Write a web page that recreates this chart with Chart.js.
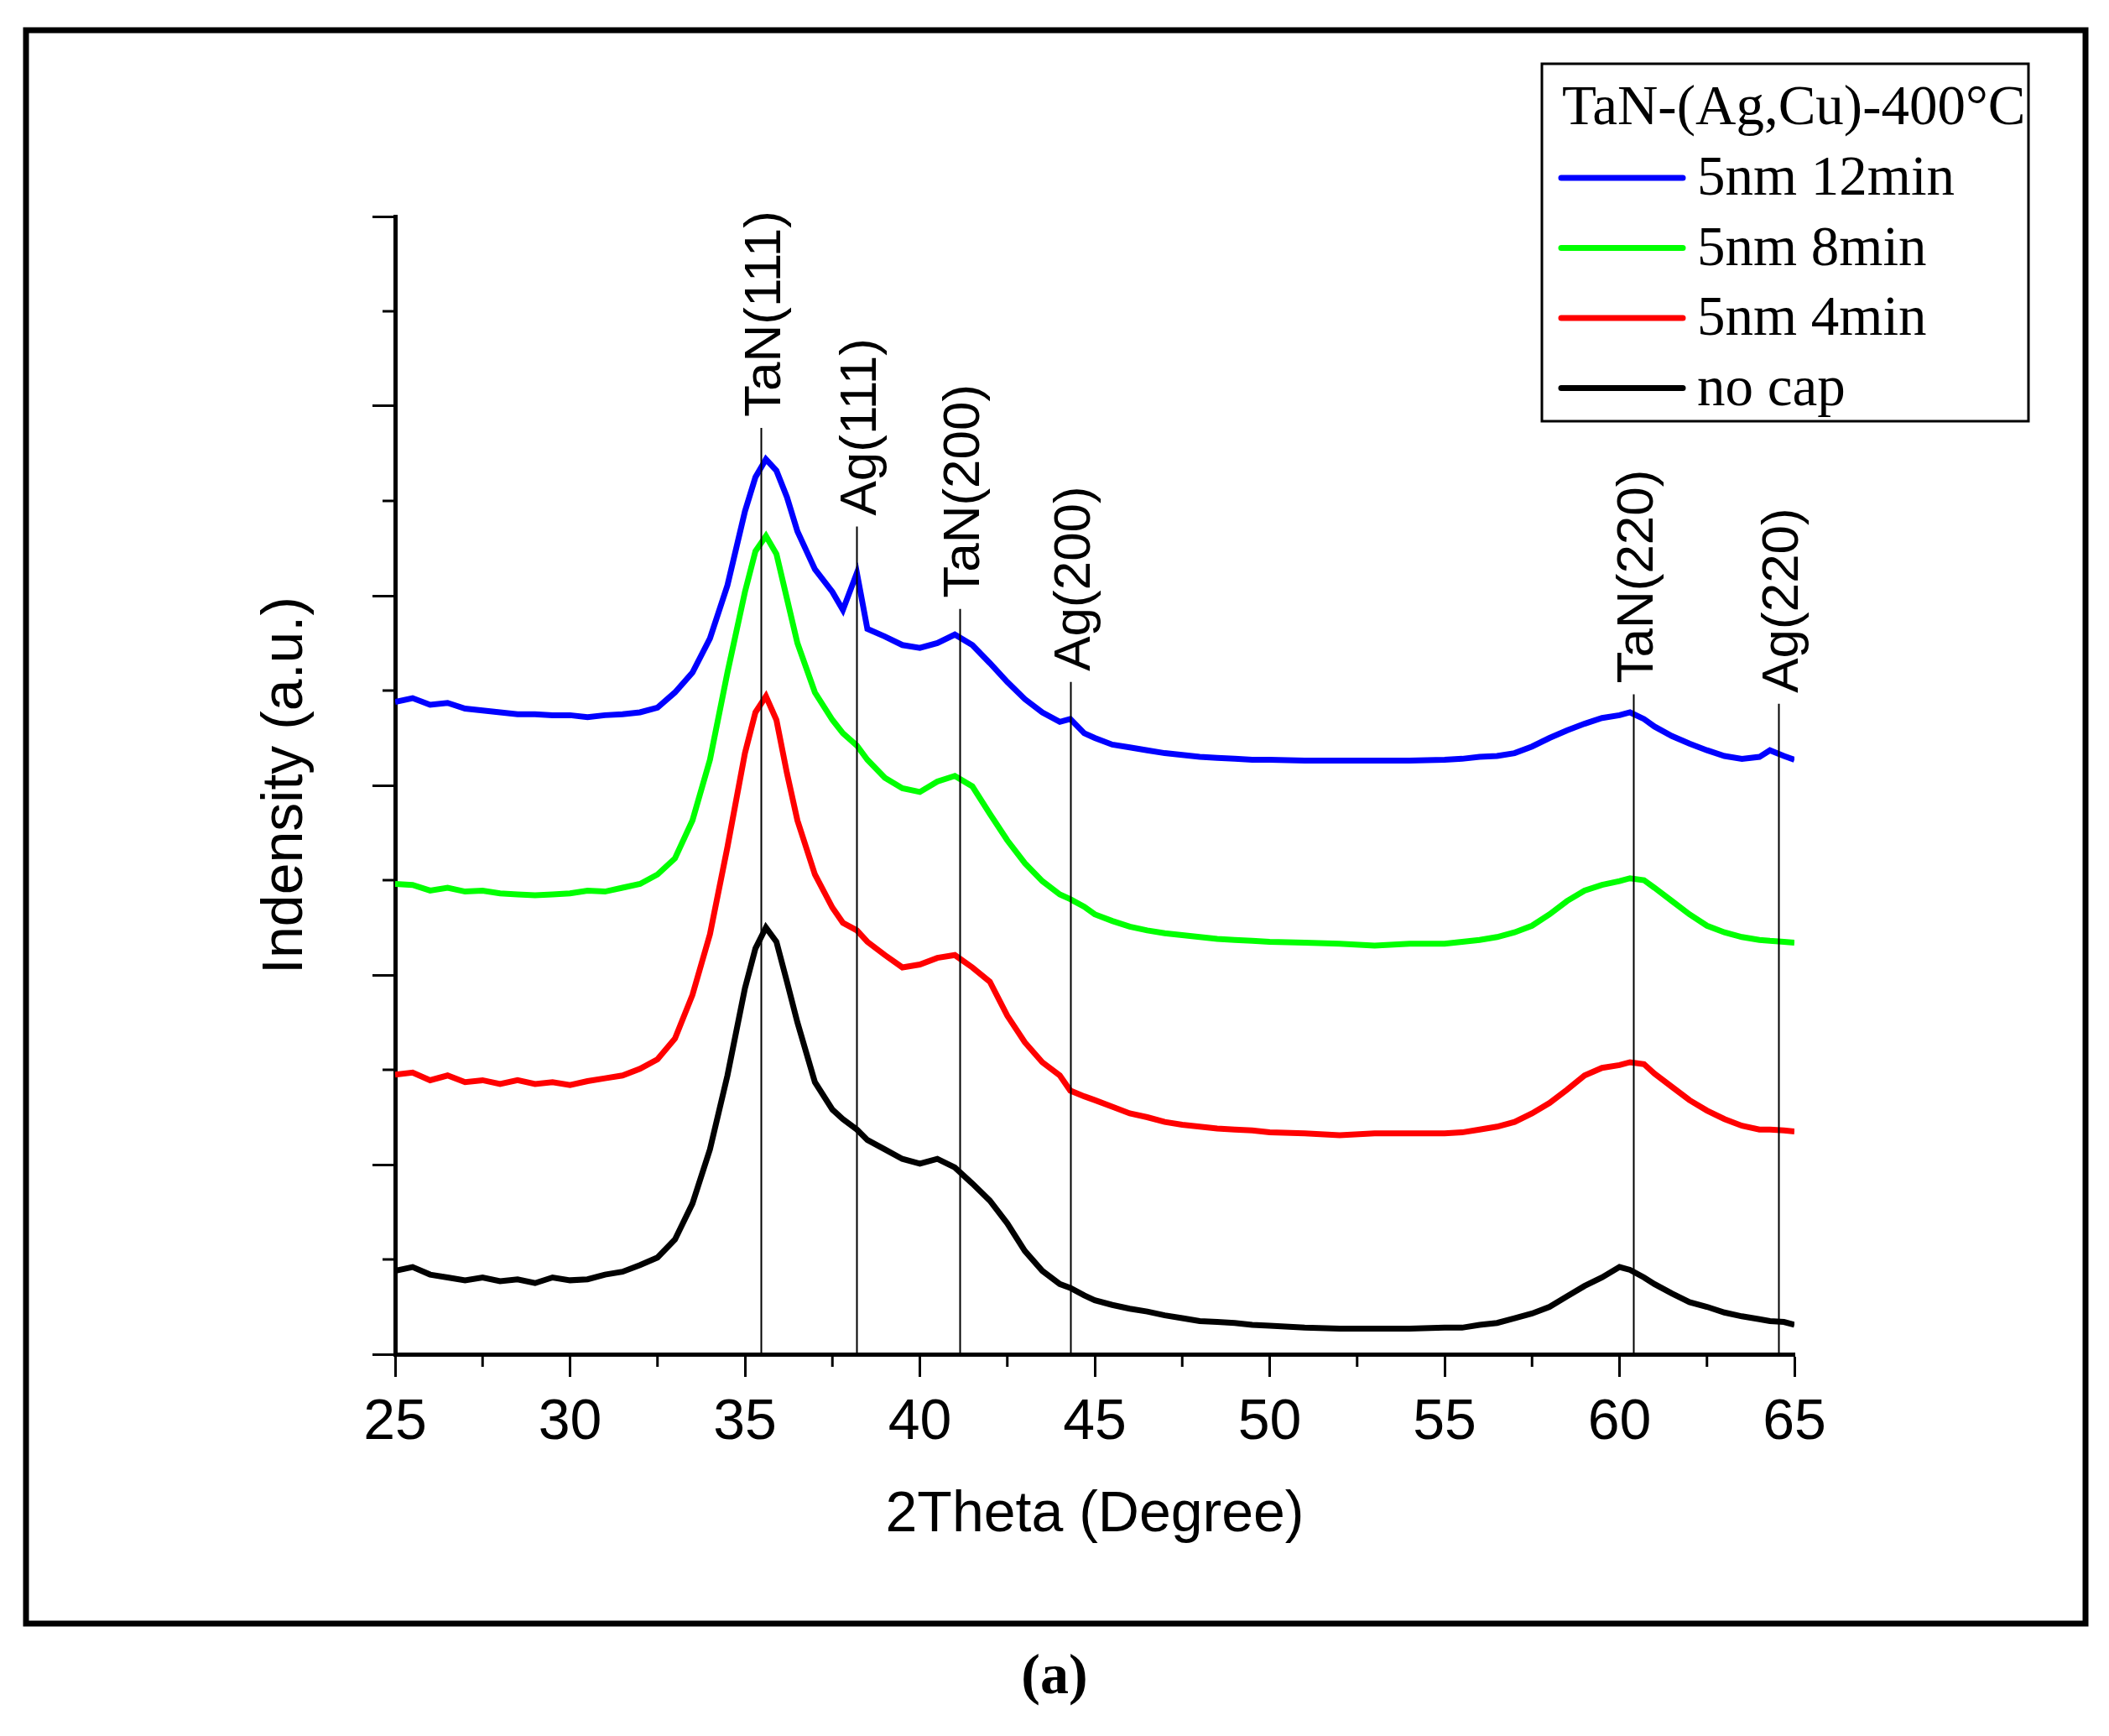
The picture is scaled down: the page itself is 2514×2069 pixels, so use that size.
<!DOCTYPE html>
<html>
<head>
<meta charset="utf-8">
<script src="https://cdn.jsdelivr.net/npm/chart.js@4.4.1/dist/chart.umd.min.js"></script>
<style>
  html, body { margin: 0; padding: 0; background: #fff; }
  canvas { display: block; }
</style>
</head>
<body>
<canvas id="xrd" width="2514" height="2069"></canvas>
<script>
// 2theta positions (deg)
const twoTheta = [
  25, 25.5, 26, 26.5, 27, 27.5, 28, 28.5, 29, 29.5, 30, 30.5, 31, 31.5, 32, 32.5, 33, 33.5, 34, 34.5, 35,
  35.3, 35.6, 35.9, 36.2, 36.5, 37, 37.5, 37.8, 38.2,
  38.5, 39, 39.5, 40, 40.5, 41, 41.5, 42, 42.5, 43, 43.5, 44, 44.3, 44.7,
  45, 45.5, 46, 46.5, 47, 47.5, 48, 48.5, 49, 49.5, 50, 51, 52, 53, 54, 55,
  55.5, 56, 56.5, 57, 57.5, 58, 58.5, 59, 59.5, 60, 60.3, 60.7,
  61, 61.5, 62, 62.5, 63, 63.5, 64, 64.3, 64.7, 65
];

// intensities (a.u.), curves already stacked as in the figure
const cap12min = [
  688, 692, 685, 687, 681, 679, 677, 675, 675, 674, 674, 672, 674, 675, 677, 682, 698, 719, 755, 811, 889,
  925, 944, 932, 904, 868, 828, 804, 785, 824,
  765, 757, 748, 745, 750, 759, 748, 729, 709, 691, 677, 667, 670, 655,
  650, 643, 640, 637, 634, 632, 630, 629, 628, 627, 627, 626, 626, 626, 626, 627,
  628, 630, 631, 634, 641, 650, 658, 665, 671, 674, 677, 670,
  662, 652, 644, 637, 631, 628, 630, 637, 631, 627
];
const cap8min = [
  496, 495, 489, 492, 488, 489, 486, 485, 484, 485, 486, 489, 488, 492, 496, 506, 523, 563, 627, 719, 804,
  847, 863, 844, 797, 750, 698, 669, 655, 642,
  627, 608, 597, 593, 604, 610, 599, 570, 542, 518, 499, 485, 480, 472,
  464, 457, 451, 447, 444, 442, 440, 438, 437, 436, 435, 434, 433, 431, 433, 433,
  435, 437, 440, 445, 452, 464, 478, 489, 495, 499, 502, 500,
  492, 478, 464, 452, 445, 440, 437, 436, 435, 434
];
const cap4min = [
  295, 297, 289, 294, 287, 289, 285, 289, 285, 287, 284, 288, 291, 294, 301, 311, 333, 379, 443, 535, 634,
  677, 694, 669, 613, 563, 506, 471, 455, 447,
  435, 421, 408, 411, 418, 421, 408, 393, 357, 329, 308, 294, 278, 272,
  268, 261, 254, 250, 245, 242, 240, 238, 237, 236, 234, 233, 231, 233, 233, 233,
  234, 237, 240, 245, 254, 265, 279, 294, 302, 305, 308, 306,
  296, 282, 268, 257, 248, 241, 237, 237, 236, 235
];
const noCap = [
  88, 92, 84, 81, 78, 81, 77, 79, 75, 81, 78, 79, 84, 87, 94, 102, 121, 159, 216, 294, 386,
  428, 450, 435, 393, 350, 287, 258, 248, 237,
  226, 216, 206, 201, 206, 197, 180, 162, 138, 109, 88, 74, 70, 62,
  57, 52, 48, 45, 41, 38, 35, 34, 33, 31, 30, 28, 27, 27, 27, 28,
  28, 31, 33, 38, 43, 50, 61, 72, 81, 92, 89, 81,
  74, 64, 55, 50, 44, 40, 37, 35, 34, 31
];

const seriesLabels = ['5nm 12min', '5nm 8min', '5nm 4min', 'no cap'];
const seriesColors = ['#0000ff', '#00ff00', '#ff0000', '#000000'];
const legendTitle = 'TaN-(Ag,Cu)-400°C';

const xTicks = [25, 30, 35, 40, 45, 50, 55, 60, 65];
const yTicks = [0, 200, 400, 600, 800, 1000, 1200];

// reference peaks: label, 2theta, top of the marker line (a.u.)
const peakLabels = ['TaN(111)', 'Ag(111)', 'TaN(200)', 'Ag(200)', 'TaN(220)', 'Ag(220)'];
const peakPos = [35.45, 38.2, 41.15, 44.3, 60.4, 64.55];
const peakTop = [977, 873, 786, 709, 696, 686];

const SANS = 'Arial, "Liberation Sans", sans-serif';
const SERIF = '"Times New Roman", "Liberation Serif", serif';

function points(ys) {
  return twoTheta.map((x, i) => ({ x: x, y: ys[i] }));
}

const extras = {
  id: 'extras',
  beforeDraw(chart) {
    const ctx = chart.ctx;
    ctx.save();
    ctx.fillStyle = '#fff';
    ctx.fillRect(0, 0, chart.width, chart.height);
    ctx.restore();
  },
  afterDatasetsDraw(chart) {
    const { ctx, scales: { x, y } } = chart;
    const size = 62;
    ctx.save();
    ctx.strokeStyle = '#000';
    ctx.lineWidth = 2;
    ctx.fillStyle = '#000';
    ctx.font = size + 'px ' + SANS;
    peakPos.forEach((p, i) => {
      const px = Math.round(x.getPixelForValue(p)) + 0.5;
      const top = y.getPixelForValue(peakTop[i]);
      ctx.beginPath();
      ctx.moveTo(px, top);
      ctx.lineTo(px, y.getPixelForValue(0));
      ctx.stroke();
      ctx.save();
      ctx.translate(px, top - 13);
      ctx.rotate(-Math.PI / 2);
      ctx.textAlign = 'left';
      ctx.textBaseline = 'alphabetic';
      ctx.fillText(peakLabels[i], 0, size * 0.716 / 2);
      ctx.restore();
    });
    ctx.restore();
  },
  afterDraw(chart) {
    const { ctx, scales: { x, y } } = chart;
    ctx.save();
    ctx.strokeStyle = '#000';

    // minor ticks
    ctx.lineWidth = 3;
    ctx.beginPath();
    for (let v = 27.5; v < 65; v += 5) {
      const px = x.getPixelForValue(v);
      ctx.moveTo(px, x.top);
      ctx.lineTo(px, x.top + 15);
    }
    for (let v = 100; v < 1200; v += 200) {
      const py = y.getPixelForValue(v);
      ctx.moveTo(y.right - 15, py);
      ctx.lineTo(y.right, py);
    }
    ctx.stroke();

    // legend box
    ctx.lineWidth = 3;
    ctx.strokeRect(1838, 76, 580, 426);
    ctx.fillStyle = '#000';
    ctx.textAlign = 'left';
    ctx.textBaseline = 'alphabetic';
    ctx.font = '67px ' + SERIF;
    ctx.fillText(legendTitle, 1862, 148);
    chart.data.datasets.forEach((ds, i) => {
      const ly = 212 + i * 83.5;
      ctx.strokeStyle = ds.borderColor;
      ctx.lineWidth = 7;
      ctx.lineCap = 'round';
      ctx.beginPath();
      ctx.moveTo(1861, ly);
      ctx.lineTo(2006, ly);
      ctx.stroke();
      ctx.fillText(ds.label, 2023, 232 + i * 83.5);
    });

    // outer frame and panel label
    ctx.strokeStyle = '#000';
    ctx.lineCap = 'butt';
    ctx.lineWidth = 7;
    ctx.strokeRect(31, 36, 2455, 1899);
    ctx.textAlign = 'center';
    ctx.font = 'bold 68px ' + SERIF;
    ctx.fillText('(a)', 1257, 2018);
    ctx.restore();
  }
};

const ctx = document.getElementById('xrd').getContext('2d');
new Chart(ctx, {
  type: 'line',
  data: {
    datasets: [cap12min, cap8min, cap4min, noCap].map((ys, i) => ({
      label: seriesLabels[i],
      data: points(ys),
      borderColor: seriesColors[i],
      backgroundColor: seriesColors[i],
      borderWidth: 7,
      pointRadius: 0,
      fill: false,
      tension: 0
    }))
  },
  options: {
    responsive: false,
    animation: false,
    devicePixelRatio: 1,
    layout: { padding: { left: 300, top: 258, right: 375, bottom: 200 } },
    plugins: {
      legend: { display: false },
      tooltip: { enabled: false }
    },
    scales: {
      x: {
        type: 'linear',
        min: 25,
        max: 65,
        afterBuildTicks: (s) => { s.ticks = xTicks.map(v => ({ value: v })); },
        afterFit: (s) => { s.height = 255; },
        border: { color: '#000', width: 5 },
        grid: { drawOnChartArea: false, drawTicks: true, tickLength: 27, tickWidth: 3, tickColor: '#000' },
        ticks: { padding: 14, color: '#000', maxRotation: 0, autoSkip: false, font: { family: SANS, size: 68 } },
        title: {
          display: true,
          text: '2Theta (Degree)',
          color: '#000',
          font: { family: SANS, size: 68 },
          padding: { top: 0, bottom: 22 }
        }
      },
      y: {
        type: 'linear',
        min: 0,
        max: 1200,
        afterBuildTicks: (s) => { s.ticks = yTicks.map(v => ({ value: v })); },
        afterFit: (s) => { s.width = 171; },
        border: { color: '#000', width: 5 },
        grid: { drawOnChartArea: false, drawTicks: true, tickLength: 27, tickWidth: 3, tickColor: '#000' },
        ticks: { display: false },
        title: {
          display: true,
          text: 'Indensity (a.u.)',
          color: '#000',
          font: { family: SANS, size: 68 },
          padding: { top: 0, bottom: 0 }
        }
      }
    }
  },
  plugins: [extras]
});
</script>
</body>
</html>
